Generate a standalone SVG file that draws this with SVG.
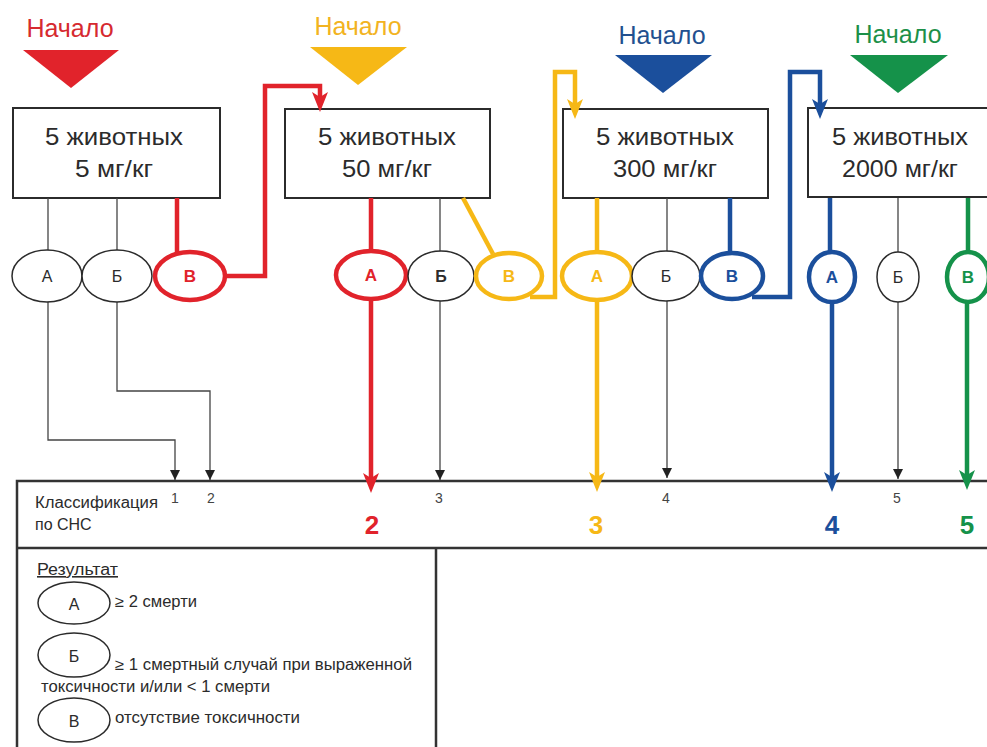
<svg xmlns="http://www.w3.org/2000/svg" width="987" height="747" viewBox="0 0 987 747">
<style>
text{font-family:"Liberation Sans",Arial,sans-serif}
.box{fill:#fff;stroke:#2b2b2b;stroke-width:2}
.bt{font-size:24px;fill:#2b2b2b;text-anchor:middle}
.start{font-size:25px;text-anchor:middle}
.thin{fill:none;stroke:#444;stroke-width:1.3}
.ek{fill:#fff;stroke:#2b2b2b;stroke-width:1.5}
.lk{font-size:16px;fill:#2b2b2b;text-anchor:middle}
.lc{font-size:17px;font-weight:bold;text-anchor:middle}
.r{stroke:#e1232b}.y{stroke:#f6b816}.b{stroke:#1b4f9c}.g{stroke:#15924a}
.thick{fill:none;stroke-width:4.5}
.ec{fill:#fff;stroke-width:4.5}
.frame{fill:none;stroke:#333;stroke-width:2.5}
.small{font-size:14px;fill:#444;text-anchor:middle}
.big{font-size:26px;font-weight:bold;text-anchor:middle}
.lg{font-size:16px;fill:#2b2b2b}
</style>
<defs>
<marker id="ak" markerUnits="userSpaceOnUse" viewBox="0 0 10 10" markerWidth="10" markerHeight="11" refX="10" refY="5" orient="auto"><path d="M0,0 L10,5 L0,10 z" fill="#222"/></marker>
<marker id="ar" markerUnits="userSpaceOnUse" viewBox="0 0 20 16" markerWidth="20" markerHeight="16" refX="13" refY="8" orient="auto"><path d="M0,0 L20,8 L0,16 L5,8 z" fill="#e1232b"/></marker>
<marker id="ay" markerUnits="userSpaceOnUse" viewBox="0 0 20 16" markerWidth="20" markerHeight="16" refX="13" refY="8" orient="auto"><path d="M0,0 L20,8 L0,16 L5,8 z" fill="#f6b816"/></marker>
<marker id="ab" markerUnits="userSpaceOnUse" viewBox="0 0 20 16" markerWidth="20" markerHeight="16" refX="13" refY="8" orient="auto"><path d="M0,0 L20,8 L0,16 L5,8 z" fill="#1b4f9c"/></marker>
<marker id="ag" markerUnits="userSpaceOnUse" viewBox="0 0 20 16" markerWidth="20" markerHeight="16" refX="13" refY="8" orient="auto"><path d="M0,0 L20,8 L0,16 L5,8 z" fill="#15924a"/></marker>
</defs>
<rect width="987" height="747" fill="#fff"/>

<g id="start1"><text class="start" x="70" y="37" fill="#d62a30">Начало</text><polygon points="23,50 119,50 71,88" fill="#e1232b"/></g>
<g id="start2"><text class="start" x="358" y="35" fill="#f2b321">Начало</text><polygon points="310,47 407,47 358,85" fill="#f6b816"/></g>
<g id="start3"><text class="start" x="662" y="44" fill="#22508f">Начало</text><polygon points="615,55 712,55 663,93" fill="#1b4f9c"/></g>
<g id="start4"><text class="start" x="898" y="43" fill="#1c9048">Начало</text><polygon points="850,55 948,55 898,93" fill="#15924a"/></g>

<g id="box1"><rect class="box" x="13" y="108" width="207" height="90"/><text class="bt" x="114" y="145" textLength="138" lengthAdjust="spacingAndGlyphs">5 животных</text><text class="bt" x="114" y="177" textLength="78" lengthAdjust="spacingAndGlyphs">5 мг/кг</text></g>
<g id="box2"><rect class="box" x="285" y="109" width="205" height="89"/><text class="bt" x="387" y="145" textLength="138" lengthAdjust="spacingAndGlyphs">5 животных</text><text class="bt" x="387" y="177" textLength="90" lengthAdjust="spacingAndGlyphs">50 мг/кг</text></g>
<g id="box3"><rect class="box" x="563" y="109" width="205" height="89"/><text class="bt" x="665" y="145" textLength="138" lengthAdjust="spacingAndGlyphs">5 животных</text><text class="bt" x="665" y="177" textLength="104" lengthAdjust="spacingAndGlyphs">300 мг/кг</text></g>
<g id="box4"><rect class="box" x="808" y="108" width="200" height="89"/><text class="bt" x="900" y="145" textLength="136" lengthAdjust="spacingAndGlyphs">5 животных</text><text class="bt" x="900" y="177" textLength="116" lengthAdjust="spacingAndGlyphs">2000 мг/кг</text></g>

<g id="classification">
<path class="frame" d="M17,747 V481 H987 M17,548 H987 M436,548 V747"/>
<text class="lg" x="35" y="508" textLength="123" lengthAdjust="spacingAndGlyphs">Классификация</text>
<text class="lg" x="35" y="530">по СНС</text>
<text class="small" x="175" y="503">1</text>
<text class="small" x="211" y="503">2</text>
<text class="small" x="439" y="503">3</text>
<text class="small" x="666" y="503">4</text>
<text class="small" x="897" y="503">5</text>
<text class="big" x="372" y="534" fill="#e1232b">2</text>
<text class="big" x="596" y="534" fill="#f6b816">3</text>
<text class="big" x="832" y="534" fill="#1b4f9c">4</text>
<text class="big" x="967" y="534" fill="#15924a">5</text>
</g>

<g id="connectors">
<path class="thin" d="M48,198 V250"/>
<path class="thin" d="M117,198 V250"/>
<path class="thin" d="M48,302 V440 H175 V480" marker-end="url(#ak)"/>
<path class="thin" d="M117,302 V391 H210 V480" marker-end="url(#ak)"/>
<path class="thin" d="M440,198 V252"/>
<path class="thin" d="M440,301 V480" marker-end="url(#ak)"/>
<path class="thin" d="M667,198 V252"/>
<path class="thin" d="M667,301 V478" marker-end="url(#ak)"/>
<path class="thin" d="M898,198 V252"/>
<path class="thin" d="M898,302 V479" marker-end="url(#ak)"/>

<path class="thick r" d="M177,198 V255"/>
<path class="thick r" d="M224,276 H265 V86 H320 V105" marker-end="url(#ar)"/>
<path class="thick r" d="M371,198 V252"/>
<path class="thick r" d="M371,299 V486" marker-end="url(#ar)"/>

<path class="thick y" d="M463,198 L493,254"/>
<path class="thick y" d="M530,297 H555 V72 H575 V112" marker-end="url(#ay)"/>
<path class="thick y" d="M597,198 V252"/>
<path class="thick y" d="M597,300 V485" marker-end="url(#ay)"/>

<path class="thick b" d="M730,198 V253"/>
<path class="thick b" d="M752,297 H790 V72 H820 V112" marker-end="url(#ab)"/>
<path class="thick b" d="M830,198 V252"/>
<path class="thick b" d="M832,302 V485" marker-end="url(#ab)"/>

<path class="thick g" d="M968,198 V252"/>
<path class="thick g" d="M967,302 V483" marker-end="url(#ag)"/>
</g>

<g id="b1A"><ellipse class="ek" cx="47" cy="276" rx="35" ry="26"/><text class="lk" x="47" y="282">А</text></g>
<g id="b1B"><ellipse class="ek" cx="117" cy="276" rx="35" ry="26"/><text class="lk" x="117" y="282">Б</text></g>
<g id="b1V"><ellipse class="ec r" cx="190" cy="276" rx="35" ry="24"/><text class="lc" x="190" y="282" fill="#e1232b">В</text></g>

<g id="b2A"><ellipse class="ec r" cx="371" cy="275" rx="35" ry="24"/><text class="lc" x="371" y="281" fill="#e1232b">А</text></g>
<g id="b2B"><ellipse class="ek" cx="441" cy="276" rx="33" ry="25"/><text class="lk" x="441" y="282" font-weight="bold">Б</text></g>
<g id="b2V"><ellipse class="ec y" cx="509" cy="276" rx="33" ry="23"/><text class="lc" x="509" y="282" fill="#f6b816">В</text></g>

<g id="b3A"><ellipse class="ec y" cx="597" cy="276" rx="35" ry="24"/><text class="lc" x="597" y="282" fill="#f6b816">А</text></g>
<g id="b3B"><ellipse class="ek" cx="666" cy="276" rx="34" ry="25"/><text class="lk" x="666" y="282">Б</text></g>
<g id="b3V"><ellipse class="ec b" cx="732" cy="276" rx="31" ry="23"/><text class="lc" x="732" y="282" fill="#1b4f9c">В</text></g>

<g id="b4A"><ellipse class="ec b" cx="832" cy="277" rx="23" ry="25"/><text class="lc" x="832" y="283" fill="#1b4f9c">А</text></g>
<g id="b4B"><ellipse class="ek" cx="898" cy="277" rx="21" ry="25"/><text class="lk" x="898" y="283">Б</text></g>
<g id="b4V"><ellipse class="ec g" cx="968" cy="277" rx="21" ry="25"/><text class="lc" x="968" y="283" fill="#15924a">В</text></g>

<g id="legend">
<text class="lg" x="37" y="575" text-decoration="underline" textLength="81" lengthAdjust="spacingAndGlyphs">Результат</text>
<ellipse class="ek" cx="74" cy="603" rx="36" ry="21"/><text class="lk" x="74" y="610" font-size="18">А</text>
<text class="lg" x="115" y="607" textLength="82" lengthAdjust="spacingAndGlyphs">≥ 2 смерти</text>
<ellipse class="ek" cx="74" cy="655" rx="36" ry="22"/><text class="lk" x="74" y="662" font-size="18">Б</text>
<text class="lg" x="115" y="670" textLength="297" lengthAdjust="spacingAndGlyphs">≥ 1 смертный случай при выраженной</text>
<text class="lg" x="41" y="692" textLength="229" lengthAdjust="spacingAndGlyphs">токсичности и/или &lt; 1 смерти</text>
<ellipse class="ek" cx="74" cy="720" rx="36" ry="22"/><text class="lk" x="74" y="727" font-size="18">В</text>
<text class="lg" x="115" y="723" textLength="185" lengthAdjust="spacingAndGlyphs">отсутствие токсичности</text>
</g>
</svg>
